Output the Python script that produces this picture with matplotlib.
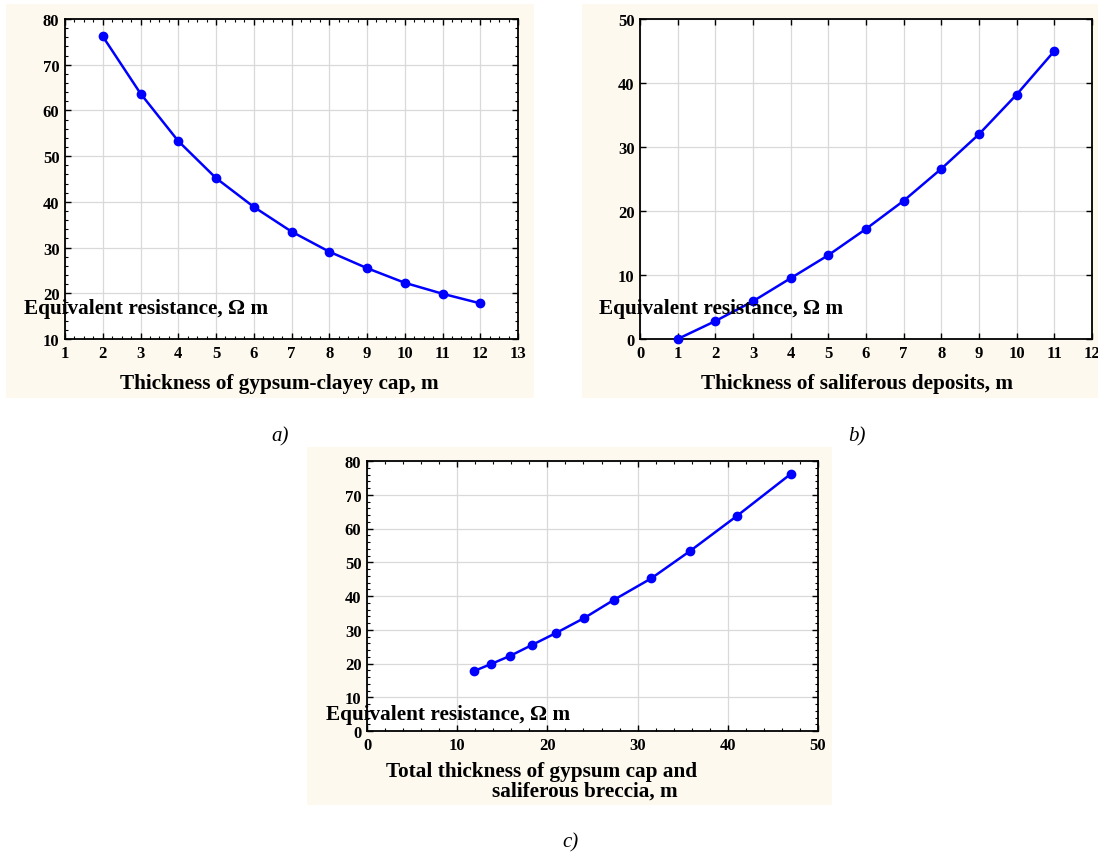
import matplotlib
matplotlib.use("Agg")
import matplotlib.pyplot as plt
from matplotlib.patches import Rectangle
from matplotlib.ticker import MultipleLocator, AutoMinorLocator

# ---- data ----
cap_thickness = [2, 3, 4, 5, 6, 7, 8, 9, 10, 11, 12]
cap_resist = [76.2, 63.7, 53.3, 45.2, 38.9, 33.5, 29.1, 25.5, 22.3, 19.9, 17.8]

salt_thickness = [1, 2, 3, 4, 5, 6, 7, 8, 9, 10, 11]
salt_resist = [0.0, 2.8, 5.9, 9.5, 13.1, 17.2, 21.6, 26.6, 32.0, 38.2, 45.0]

total_thickness = [11.9, 13.8, 15.9, 18.3, 21.0, 24.1, 27.4, 31.5, 35.8, 41.0, 47.0]
total_resist = [17.8, 19.9, 22.3, 25.5, 29.1, 33.5, 38.9, 45.2, 53.3, 63.7, 76.2]

W, H = 1098, 854
fig = plt.figure(figsize=(W / 100, H / 100), dpi=100)
fig.patch.set_facecolor("white")

FONT = "Liberation Serif"
CREAM = "#FEF9EE"


def box(x0, y0, x1, y1):
    return [x0 / W, 1 - y1 / H, (x1 - x0) / W, (y1 - y0) / H]


def cream(x0, y0, x1, y1):
    b = box(x0, y0, x1, y1)
    fig.patches.append(Rectangle((b[0], b[1]), b[2], b[3], transform=fig.transFigure,
                                 facecolor=CREAM, edgecolor="none", zorder=-5))


def ftext(x, y, s, **kw):
    fig.text(x / W, 1 - y / H, s, family=FONT, **kw)


cream(6, 5, 534, 399)
cream(582, 5, 1098, 399)
cream(307, 448, 832, 806)


def style(ax, xmaj, ymaj, xmin_n, ymin_n):
    ax.set_zorder(2)
    ax.set_facecolor("white")
    ax.xaxis.set_major_locator(MultipleLocator(xmaj))
    ax.yaxis.set_major_locator(MultipleLocator(ymaj))
    ax.xaxis.set_minor_locator(AutoMinorLocator(xmin_n))
    ax.yaxis.set_minor_locator(AutoMinorLocator(ymin_n))
    ax.grid(True, which="major", color="#d9d9d9", linewidth=0.9)
    ax.set_axisbelow(True)
    ax.tick_params(which="both", direction="in", top=True, right=True,
                   color="black")
    ax.tick_params(which="major", length=4, width=1.0, labelsize=12, pad=4)
    ax.tick_params(which="minor", length=2, width=0.8)
    for lab in ax.get_xticklabels() + ax.get_yticklabels():
        lab.set_fontfamily(FONT)
        lab.set_fontweight("bold")
    for sp in ax.spines.values():
        sp.set_linewidth(1.3)
        sp.set_color("black")


line_kw = dict(color="#0000FF", linewidth=1.8, marker="o", markersize=6,
               markerfacecolor="#0000FF", markeredgecolor="#0000FF", clip_on=False, zorder=3)

# panel a
ax1 = fig.add_axes(box(65, 20, 518, 340))
ax1.plot(cap_thickness, cap_resist, **line_kw)
ax1.set_xlim(1, 13)
ax1.set_ylim(10, 80)
style(ax1, 1, 10, 4, 5)

# panel b
ax2 = fig.add_axes(box(640, 20, 1092, 340))
ax2.plot(salt_thickness, salt_resist, **line_kw)
ax2.set_xlim(0, 12)
ax2.set_ylim(0, 50)
style(ax2, 1, 10, 1, 1)

# panel c
ax3 = fig.add_axes(box(367, 462, 818, 732))
ax3.plot(total_thickness, total_resist, **line_kw)
ax3.set_xlim(0, 50)
ax3.set_ylim(0, 80)
style(ax3, 10, 10, 5, 5)

lab_kw = dict(fontsize=15.3, fontweight="bold", color="black", zorder=10)
ftext(24, 309, "Equivalent resistance, \u03a9 m", va="center", ha="left", **lab_kw)
ftext(599, 309, "Equivalent resistance, \u03a9 m", va="center", ha="left", **lab_kw)
ftext(326, 715, "Equivalent resistance, \u03a9 m", va="center", ha="left", **lab_kw)

ftext(279, 384, "Thickness of gypsum-clayey cap, m", va="center", ha="center", **lab_kw)
ftext(857, 384, "Thickness of saliferous deposits, m", va="center", ha="center", **lab_kw)
ftext(386, 772, "Total thickness of gypsum cap and", va="center", ha="left", **lab_kw)
ftext(492, 792, "saliferous breccia, m", va="center", ha="left", **lab_kw)

cap_kw = dict(fontsize=15, fontstyle="italic", color="black")
ftext(280, 437, "a)", va="center", ha="center", **cap_kw)
ftext(857, 437, "b)", va="center", ha="center", **cap_kw)
ftext(570, 843, "c)", va="center", ha="center", **cap_kw)

fig.savefig("out.png", dpi=100, facecolor="white")
